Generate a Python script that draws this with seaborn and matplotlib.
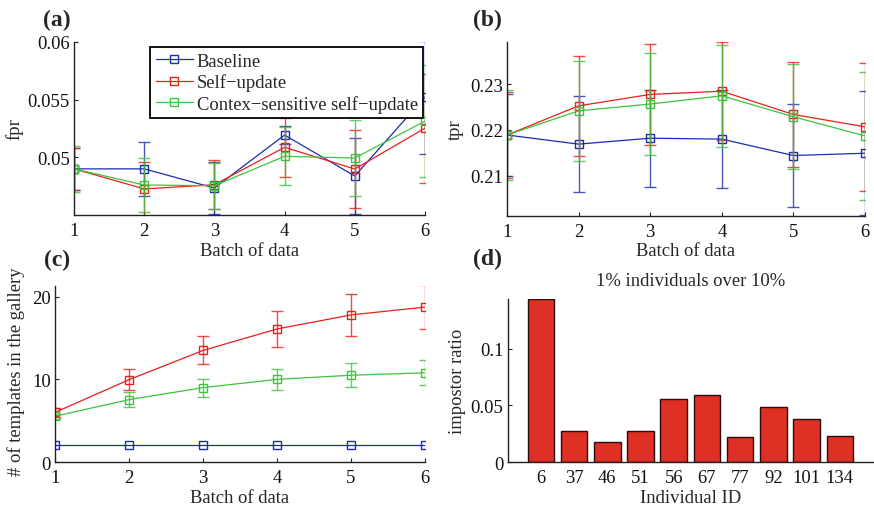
import numpy as np
import pandas as pd
import matplotlib
matplotlib.use("Agg")
import matplotlib.pyplot as plt
import seaborn as sns

# ---------------- data ----------------
batches = [1, 2, 3, 4, 5, 6]
series_names = ["Baseline", "Self\u2212update", "Contex\u2212sensitive self\u2212update"]

fpr_baseline = [0.0490, 0.0490, 0.04734, 0.05193, 0.04838, 0.05523]
fpr_self = [0.0490, 0.04726, 0.04763, 0.05087, 0.04899, 0.05253]
fpr_context = [0.0490, 0.04760, 0.04754, 0.05009, 0.04994, 0.05314]
fpr_err_baseline = [0.0018, 0.00236, 0.00228, 0.00078, 0.00326, 0.0049]
fpr_err_self = [0.0018, 0.00236, 0.00213, 0.00254, 0.00337, 0.00473]
fpr_err_context = [0.0020, 0.0023, 0.0020, 0.0025, 0.0033, 0.00484]

tpr_baseline = [0.2189, 0.2169, 0.2182, 0.2180, 0.2144, 0.2149]
tpr_self = [0.2189, 0.2253, 0.2278, 0.2285, 0.2234, 0.2207]
tpr_context = [0.2189, 0.2242, 0.2257, 0.2275, 0.2229, 0.2187]
tpr_err_baseline = [0.0090, 0.0105, 0.0106, 0.0108, 0.0114, 0.0136]
tpr_err_self = [0.0095, 0.0109, 0.0110, 0.0108, 0.0116, 0.0141]
tpr_err_context = [0.0099, 0.0110, 0.0111, 0.0112, 0.0115, 0.0141]

tmpl_baseline = [2.0, 2.0, 2.0, 2.0, 2.0, 2.0]
tmpl_self = [6.0, 9.96, 13.5, 16.1, 17.8, 18.75]
tmpl_context = [5.54, 7.55, 9.0, 10.0, 10.5, 10.8]
tmpl_err_baseline = [0.0, 0.0, 0.0, 0.0, 0.0, 0.0]
tmpl_err_self = [0.5, 1.25, 1.7, 2.2, 2.5, 2.65]
tmpl_err_context = [0.3, 0.9, 1.1, 1.3, 1.45, 1.5]

individual_ids = ["6", "37", "46", "51", "56", "67", "77", "92", "101", "134"]
impostor_ratio = [0.144, 0.0276, 0.0176, 0.0276, 0.0556, 0.059, 0.022, 0.0488, 0.0382, 0.0226]

# ---------------- style ----------------
sns.set_theme(style="ticks")
plt.rcParams["font.family"] = ["Liberation Serif", "DejaVu Serif"]
plt.rcParams["mathtext.fontset"] = "stix"
FS = 13.4
colors = ["#1a2db0", "#e8201a", "#3cc43c"]

W, H = 874, 506
fig = plt.figure(figsize=(W / 100, H / 100), dpi=100)


def add_axes_px(left, top, right, bottom):
    return fig.add_axes([left / W, 1 - bottom / H, (right - left) / W, (bottom - top) / H])


def style_ax(ax):
    for s in ["top", "right"]:
        ax.spines[s].set_visible(False)
    for s in ["left", "bottom"]:
        ax.spines[s].set_color("#222222")
        ax.spines[s].set_linewidth(1.0)
    ax.tick_params(direction="in", length=3, width=0.8, labelsize=FS, colors="#222222",
                   labelcolor="#111111")
    ax.tick_params(axis="x", pad=5)
    ax.tick_params(axis="y", pad=3)
    ax.grid(False)


def line_panel(ax, ys, errs, labels=True):
    for name, y, e, c in zip(series_names, ys, errs, colors):
        df = pd.DataFrame({"batch": batches, "val": y})
        sns.lineplot(data=df, x="batch", y="val", ax=ax, color=c, lw=0.9,
                     marker="s", markersize=6, markerfacecolor="none",
                     markeredgecolor=c, markeredgewidth=1.0,
                     label=name if labels else None, clip_on=True)
        if any(v > 0 for v in e):
            ax.errorbar(batches, y, yerr=e, fmt="none", ecolor=c, elinewidth=1.0,
                        capsize=4, capthick=1.0, alpha=0.8)


# (a) fpr
axa = add_axes_px(74, 43, 425, 216)
line_panel(axa, [fpr_baseline, fpr_self, fpr_context],
           [fpr_err_baseline, fpr_err_self, fpr_err_context])
axa.set_xlim(1, 6)
axa.set_ylim(0.045, 0.06)
axa.set_yticks([0.05, 0.055, 0.06])
axa.set_yticklabels(["0.05", "0.055", "0.06"])
axa.set_xticks(batches)
style_ax(axa)
axa.set_xlabel("Batch of data", fontsize=FS, labelpad=2)
axa.set_ylabel("fpr", fontsize=FS)
axa.yaxis.set_label_coords(-0.145, 0.5)
leg = axa.legend(loc="upper left", bbox_to_anchor=(150 / W, 1 - 48 / H),
                 bbox_transform=fig.transFigure, borderaxespad=0, frameon=True,
                 fontsize=FS, handlelength=2.0, handletextpad=0.2, labelspacing=0.2,
                 borderpad=0.3, fancybox=False)
leg.get_frame().set_edgecolor("black")
leg.get_frame().set_linewidth(1.3)
leg.get_frame().set_alpha(1)

# (b) tpr
axb = add_axes_px(507, 43, 865, 216.7)
line_panel(axb, [tpr_baseline, tpr_self, tpr_context],
           [tpr_err_baseline, tpr_err_self, tpr_err_context], labels=False)
axb.set_xlim(1, 6)
axb.set_ylim(0.2012, 0.2393)
axb.set_yticks([0.21, 0.22, 0.23])
axb.set_yticklabels(["0.21", "0.22", "0.23"])
axb.set_xticks(batches)
style_ax(axb)
axb.set_xlabel("Batch of data", fontsize=FS, labelpad=2)
axb.set_ylabel("tpr", fontsize=FS)
axb.yaxis.set_label_coords(-0.12, 0.5)

# (c) templates
axc = add_axes_px(55, 287, 425, 463)
line_panel(axc, [tmpl_baseline, tmpl_self, tmpl_context],
           [tmpl_err_baseline, tmpl_err_self, tmpl_err_context], labels=False)
axc.set_xlim(1, 6)
axc.set_ylim(0, 21.3)
axc.set_yticks([0, 10, 20])
axc.set_xticks(batches)
style_ax(axc)
axc.set_xlabel("Batch of data", fontsize=FS, labelpad=2.5)
axc.set_ylabel("# of templates in the gallery", fontsize=FS)
axc.yaxis.set_label_coords(-0.08, 0.52)

# (d) impostor ratio
axd = add_axes_px(507.7, 300, 873, 463)
dfd = pd.DataFrame({"id": individual_ids, "ratio": impostor_ratio})
sns.barplot(data=dfd, x="id", y="ratio", order=individual_ids, ax=axd,
            color="#de3024", saturation=1, width=0.8, edgecolor="#2a0a0a", linewidth=1.0)
axd.set_xlim(-1, 10)
axd.set_ylim(0, 0.144)
axd.set_yticks([0, 0.05, 0.1])
axd.set_yticklabels(["0", "0.05", "0.1"])
style_ax(axd)
axd.tick_params(axis="x", length=0)
axd.set_xlabel("Individual ID", fontsize=FS, labelpad=2.5)
axd.set_ylabel("impostor ratio", fontsize=FS)
axd.yaxis.set_label_coords(-0.115, 0.5)
axd.set_title("1% individuals over 10%", fontsize=FS, pad=10)

# panel labels
for txt, x, y in [("(a)", 57, 20), ("(b)", 487, 20), ("(c)", 57, 260), ("(d)", 487, 259)]:
    fig.text(x / W, 1 - y / H, txt, fontsize=17, fontweight="bold", ha="center", va="center")

fig.savefig("out.png", dpi=100)
